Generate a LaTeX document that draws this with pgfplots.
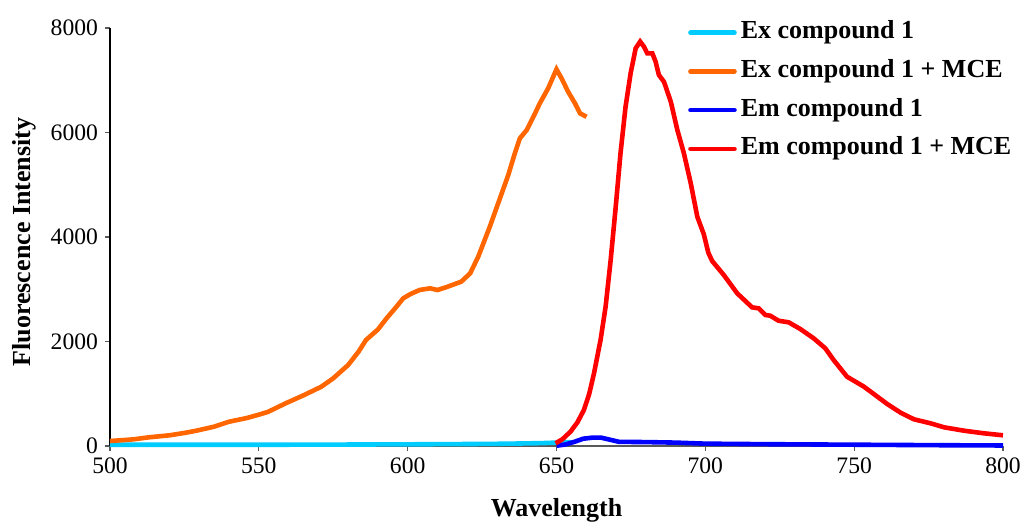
\documentclass[border=0pt]{standalone}
\usepackage{fontspec}
\setmainfont{Liberation Serif}
\usepackage{pgfplots}
\pgfplotsset{compat=1.18}
\definecolor{excyan}{RGB}{0,204,255}
\definecolor{exorange}{RGB}{255,102,0}
\definecolor{emblue}{RGB}{0,0,255}
\definecolor{emred}{RGB}{255,0,0}

\begin{document}
\begin{tikzpicture}
\begin{axis}[
    scale only axis,
    width=446.5pt, height=209pt,
    xmin=500, xmax=800,
    ymin=0, ymax=8000,
    xtick={500,550,...,800},
    ytick={0,2000,4000,6000,8000},
    axis x line*=bottom,
    axis y line*=left,
    x axis line style={-, gray!70!black, line width=0.6pt},
    y axis line style={-, black, line width=0.6pt},
    tick align=outside,
    major tick length=2.5pt,
    tick style={gray!70!black, line width=0.6pt},
    ticklabel style={font=\fontsize{11.8}{13}\selectfont},
    /pgf/number format/assume math mode=true,
    /pgf/number format/set thousands separator={},
    scaled y ticks=false,
    xlabel={\textbf{Wavelength}},
    ylabel={\textbf{Fluorescence Intensity}},
    xlabel style={at={(axis description cs:0.5,-0.155)}, anchor=center, font=\fontsize{13}{15}\selectfont},
    ylabel style={at={(axis description cs:-0.0965,0.488)}, anchor=center, font=\fontsize{13}{15}\selectfont},
    legend cell align=left,
    legend style={draw=none, fill=none, at={(0.647,1.028)}, anchor=north west,
        inner sep=0pt, row sep=3.35pt,
        font=\fontsize{13}{15}\selectfont\bfseries,
        nodes={inner sep=2pt, text height=9pt, text depth=3pt}},
    legend image code/.code={\draw[#1, line cap=round] (0pt,0pt) -- (22pt,0pt);},
    clip=false,
]
% Ex compound 1
\addplot[excyan, line width=2.3pt] coordinates {
(500,25) (520,24) (540,24) (560,25) (580,28) (600,32) (620,38) (630,42) (640,50) (645,55) (650,65) (653,75) (655,70)
};
\addlegendentry{Ex compound 1}
% Ex compound 1 + MCE
\addplot[exorange, line width=2.3pt] coordinates {
(500,96) (505,115) (508,128) (513,166) (520,205) (525,250) (529,293) (535,370)
(540,465) (546,536) (550,600) (553,651) (559,817) (565,970) (571,1135) (575,1296)
(580,1550) (583.5,1805) (586,2029) (590,2230) (593,2450) (596,2650) (598.5,2826)
(601,2910) (604,2986) (607.5,3018) (610,2986) (613,3040) (616.5,3114) (618,3145)
(621,3305) (623.7,3623) (627.6,4198) (631.6,4836) (633.8,5187) (636,5601)
(637.7,5889) (640,6048) (642.8,6367) (644.4,6559) (647.2,6846) (648.9,7068)
(650,7210) (651.7,7037) (653.9,6781) (656.2,6559) (657.9,6367) (660.1,6300)
};
\addlegendentry{Ex compound 1 + MCE}
% Em compound 1
\addplot[emblue, line width=2.3pt] coordinates {
(650,5) (653,30) (656,80) (659,140) (662,160) (665,160) (668,120) (671,80) (680,75)
(690,65) (700,45) (720,35) (750,25) (780,15) (800,10)
};
\addlegendentry{Em compound 1}
% Em compound 1 + MCE
\addplot[emred, line width=2.3pt] coordinates {
(649.7,52) (652,130) (654.7,274) (657,450) (659.2,689) (661,1000) (662.6,1391)
(664.8,2029) (666.5,2667) (668.2,3560) (669.9,4580) (671.5,5601) (673.2,6494)
(674.9,7133) (676.6,7612) (678.1,7740) (679.4,7642) (680.5,7515) (682.2,7515)
(683.3,7355) (684.4,7100) (686.1,6972) (688.4,6589) (690.6,6048) (692.8,5601)
(695.1,5028) (697.3,4389) (699.5,4050) (701,3700) (702.3,3540) (706.2,3273) (710.7,2922)
(715.7,2654) (717.9,2635) (720.2,2507) (721.8,2494) (724.6,2398) (728,2367)
(731.9,2239) (736.4,2061) (740.3,1870) (743.1,1646) (747.6,1326) (753.3,1135)
(757.8,944) (761.1,804) (765.6,638) (770.1,511) (775.7,434) (780.2,358)
(786.9,293) (793.6,243) (800,205)
};
\addlegendentry{Em compound 1 + MCE}
\end{axis}
\pgfresetboundingbox
\path[use as bounding box] (-55pt,-37.5pt) rectangle (456pt,223pt);
\end{tikzpicture}
\end{document}
